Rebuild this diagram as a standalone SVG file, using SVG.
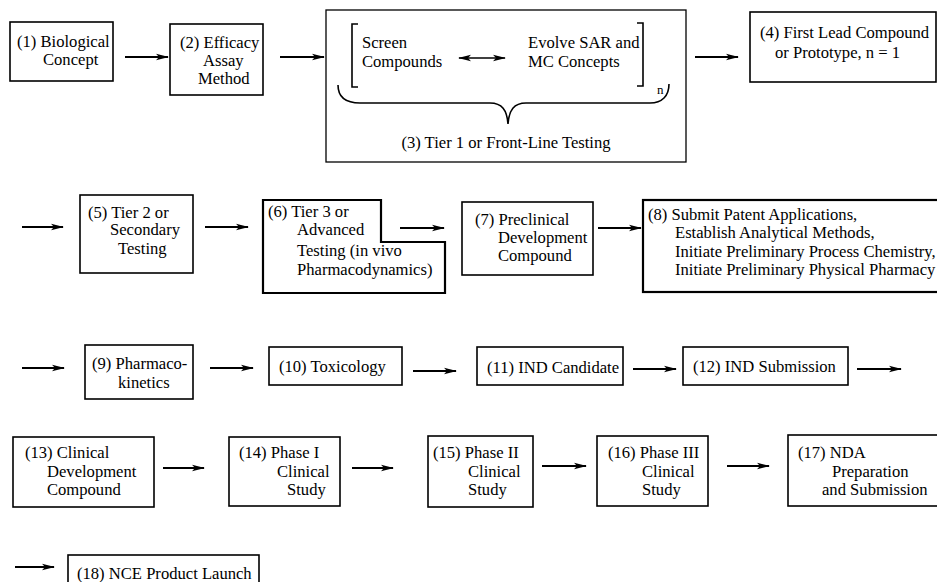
<svg xmlns="http://www.w3.org/2000/svg" width="937" height="582" viewBox="0 0 937 582">
  <style>
    .box { fill: #fff; stroke: #000; stroke-width: 1.6; }
    .thick { stroke-width: 2.2; }
    .thin { stroke-width: 1.3; }
    .t { font-size: 16.6px; fill: #000; }
    .c { text-anchor: middle; }
    .edge { fill: none; stroke: #000; stroke-width: 2; }
    .line { fill: none; stroke: #000; stroke-width: 1.6; }
  </style>
  <defs>
    <marker id="ah" markerUnits="userSpaceOnUse" markerWidth="14" markerHeight="8" refX="12" refY="4" orient="auto">
      <path d="M0,0.8 L13,4 L0,7.2 L3,4 Z" fill="#000"/>
    </marker>
    <marker id="ahs" markerUnits="userSpaceOnUse" markerWidth="14" markerHeight="8" refX="2" refY="4" orient="auto">
      <path d="M14,0.8 L1,4 L14,7.2 L11,4 Z" fill="#000"/>
    </marker>
  </defs>
  <rect width="937" height="582" fill="#fff"/>

  <!-- connectors -->
  <g id="connectors">
    <line class="edge" x1="125" y1="57" x2="168" y2="57" marker-end="url(#ah)"/>
    <line class="edge" x1="280" y1="57" x2="324" y2="57" marker-end="url(#ah)"/>
    <line class="edge" x1="695" y1="57" x2="738" y2="57" marker-end="url(#ah)"/>
    <line class="edge" x1="22" y1="227" x2="63" y2="227" marker-end="url(#ah)"/>
    <line class="edge" x1="205" y1="227" x2="248" y2="227" marker-end="url(#ah)"/>
    <line class="edge" x1="400" y1="228" x2="444" y2="228" marker-end="url(#ah)"/>
    <line class="edge" x1="598" y1="228" x2="641" y2="228" marker-end="url(#ah)"/>
    <line class="edge" x1="22" y1="368" x2="64" y2="368" marker-end="url(#ah)"/>
    <line class="edge" x1="210" y1="368" x2="253" y2="368" marker-end="url(#ah)"/>
    <line class="edge" x1="413" y1="371" x2="456" y2="371" marker-end="url(#ah)"/>
    <line class="edge" x1="633" y1="369" x2="676" y2="369" marker-end="url(#ah)"/>
    <line class="edge" x1="857" y1="369" x2="901" y2="369" marker-end="url(#ah)"/>
    <line class="edge" x1="163" y1="468" x2="204" y2="468" marker-end="url(#ah)"/>
    <line class="edge" x1="352" y1="468" x2="393" y2="468" marker-end="url(#ah)"/>
    <line class="edge" x1="542" y1="466" x2="586" y2="466" marker-end="url(#ah)"/>
    <line class="edge" x1="727" y1="466" x2="769" y2="466" marker-end="url(#ah)"/>
    <line class="edge" x1="15" y1="567" x2="54" y2="567" marker-end="url(#ah)"/>
  </g>

  <g font-family="'Liberation Serif', 'DejaVu Serif', serif">
  <g id="n1">
    <rect class="box" x="10" y="22" width="103" height="59"/>
    <text class="t" x="17" y="47">(1) Biological</text>
    <text class="t" x="43" y="65">Concept</text>
  </g>

  <g id="n2">
    <rect class="box" x="170" y="24" width="93" height="71"/>
    <text class="t" x="180" y="48">(2) Efficacy</text>
    <text class="t" x="203" y="66">Assay</text>
    <text class="t" x="198" y="84">Method</text>
  </g>

  <g id="n3">
    <rect class="box thin" x="326" y="10" width="360" height="152"/>
    <path class="line" d="M358,24 L352,24 L352,87 L358,87"/>
    <path class="line" d="M637,23 L643,23 L643,86 L637,86"/>
    <text class="t" x="362" y="48">Screen</text>
    <text class="t" x="362" y="67">Compounds</text>
    <line class="line" x1="459" y1="58" x2="505" y2="58" marker-start="url(#ahs)" marker-end="url(#ah)"/>
    <text class="t" x="528" y="48">Evolve SAR and</text>
    <text class="t" x="528" y="67">MC Concepts</text>
    <text class="t" x="657" y="94" style="font-size:13px">n</text>
    <path class="line" d="M338,85 C338,97 346,103 360,103 L490,103 C502,103 507,110 508,124 C509,110 514,103 526,103 L650,103 C662,103 669,96 669,84"/>
    <text class="t c" x="506" y="148">(3) Tier 1 or Front-Line Testing</text>
  </g>

  <g id="n4">
    <rect class="box" x="750" y="12" width="186" height="70"/>
    <text class="t" x="760" y="38">(4) First Lead Compound</text>
    <text class="t" x="775" y="58">or Prototype, n = 1</text>
  </g>

  <g id="n5">
    <rect class="box" x="80" y="195" width="113" height="78"/>
    <text class="t" x="88" y="218">(5) Tier 2 or</text>
    <text class="t" x="110" y="235">Secondary</text>
    <text class="t" x="118" y="254">Testing</text>
  </g>

  <g id="n6">
    <path class="box thick" d="M263,200 L381,200 L381,242 L445,242 L445,293 L263,293 Z"/>
    <text class="t" x="268" y="217">(6) Tier 3 or</text>
    <text class="t" x="297" y="235">Advanced</text>
    <text class="t" x="297" y="256">Testing (in vivo</text>
    <text class="t" x="297" y="275">Pharmacodynamics)</text>
  </g>

  <g id="n7">
    <rect class="box" x="462" y="202" width="131" height="73"/>
    <text class="t" x="475" y="225">(7) Preclinical</text>
    <text class="t" x="498" y="243">Development</text>
    <text class="t" x="498" y="261">Compound</text>
  </g>

  <g id="n8">
    <rect class="box thick" x="643" y="200" width="296" height="92"/>
    <text class="t" x="648" y="220">(8) Submit Patent Applications,</text>
    <text class="t" x="675" y="238">Establish Analytical Methods,</text>
    <text class="t" x="675" y="257">Initiate Preliminary Process Chemistry,</text>
    <text class="t" x="675" y="275">Initiate Preliminary Physical Pharmacy</text>
  </g>

  <g id="n9">
    <rect class="box" x="85" y="345" width="108" height="54"/>
    <text class="t" x="92" y="369">(9) Pharmaco-</text>
    <text class="t" x="118" y="388">kinetics</text>
  </g>

  <g id="n10">
    <rect class="box" x="269" y="347" width="133" height="38"/>
    <text class="t" x="279" y="372">(10) Toxicology</text>
  </g>

  <g id="n11">
    <rect class="box" x="477" y="347" width="146" height="38"/>
    <text class="t" x="487" y="373">(11) IND Candidate</text>
  </g>

  <g id="n12">
    <rect class="box" x="683" y="347" width="165" height="38"/>
    <text class="t" x="693" y="372">(12) IND Submission</text>
  </g>

  <g id="n13">
    <rect class="box" x="13" y="437" width="141" height="70"/>
    <text class="t" x="25" y="458">(13) Clinical</text>
    <text class="t" x="47" y="477">Development</text>
    <text class="t" x="47" y="495">Compound</text>
  </g>

  <g id="n14">
    <rect class="box" x="229" y="437" width="111" height="69"/>
    <text class="t" x="239" y="458">(14) Phase I</text>
    <text class="t" x="277" y="477">Clinical</text>
    <text class="t" x="287" y="495">Study</text>
  </g>

  <g id="n15">
    <rect class="box" x="428" y="436" width="105" height="71"/>
    <text class="t" x="433" y="458">(15) Phase II</text>
    <text class="t" x="468" y="477">Clinical</text>
    <text class="t" x="468" y="495">Study</text>
  </g>

  <g id="n16">
    <rect class="box" x="597" y="436" width="111" height="70"/>
    <text class="t" x="608" y="458">(16) Phase III</text>
    <text class="t" x="642" y="477">Clinical</text>
    <text class="t" x="642" y="495">Study</text>
  </g>

  <g id="n17">
    <rect class="box" x="788" y="435" width="151" height="71"/>
    <text class="t" x="798" y="458">(17) NDA</text>
    <text class="t" x="832" y="477">Preparation</text>
    <text class="t" x="822" y="495">and Submission</text>
  </g>

  <g id="n18">
    <rect class="box" x="68" y="555" width="191" height="40"/>
    <text class="t" x="77" y="579">(18) NCE Product Launch</text>
  </g>
  </g>
</svg>
